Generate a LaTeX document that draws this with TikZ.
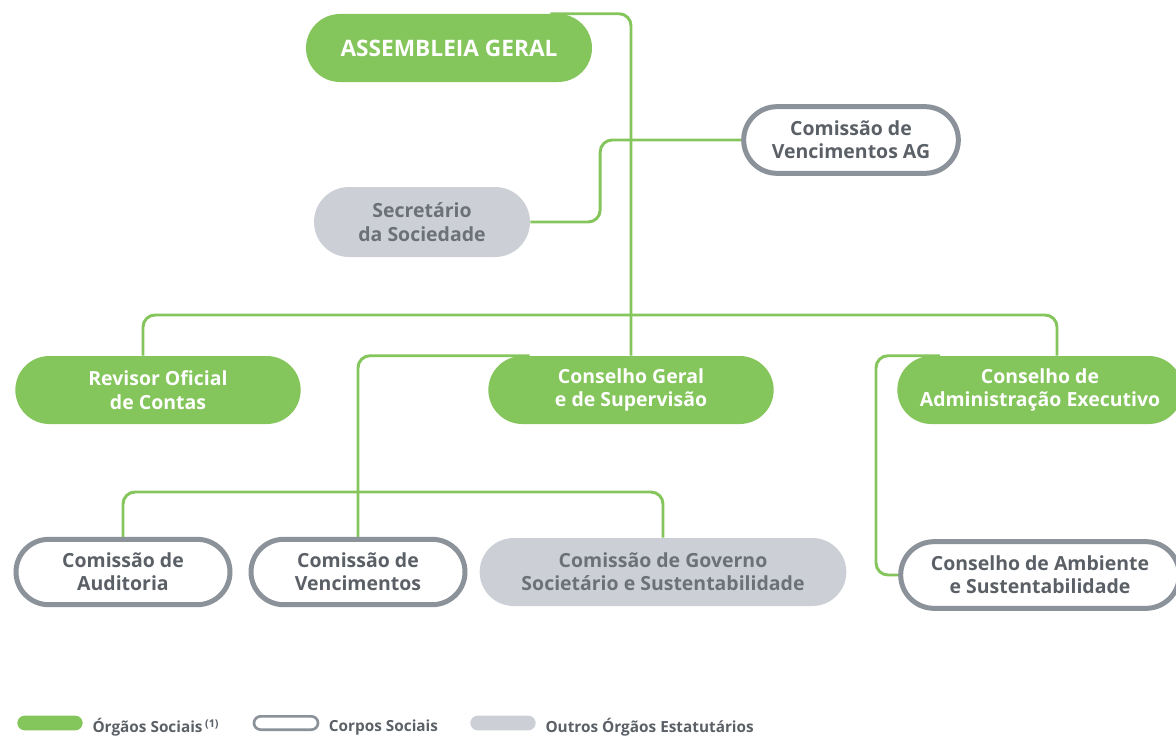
\documentclass[tikz,border=0pt]{standalone}
\usepackage{fontspec}
\setmainfont{Open Sans}
\usetikzlibrary{positioning,shapes.misc,backgrounds}
\definecolor{orgGreen}{HTML}{84C55C}
\definecolor{orgBorder}{HTML}{8B9299}
\definecolor{orgFill}{HTML}{CCD0D6}
\definecolor{orgText}{HTML}{5B6067}
\definecolor{orgTextLight}{HTML}{6C7178}
\begin{document}
\begin{tikzpicture}[x=0.75pt,y=-0.75pt,
  pill/.style={rounded rectangle,align=center,inner sep=0pt,
    font=\fontsize{14.6}{17.5}\selectfont\bfseries},
  social/.style={pill,fill=orgGreen,text=white,minimum width=214pt,minimum height=51pt},
  corpo/.style={pill,draw=orgBorder,line width=3.75pt,fill=white,text=orgText,
    minimum width=160.5pt,minimum height=49pt},
  outro/.style={pill,fill=orgFill,text=orgTextLight},
  link/.style={orgGreen,line width=2.2pt,rounded corners=9pt},
  legtext/.style={inner sep=0pt,text=orgText,font=\fontsize{11.5}{13}\selectfont\bfseries}]
  \useasboundingbox (0,0) rectangle (1176,735);
  \clip (0,0) rectangle (1176,735);
  % top level
  \node[social,minimum width=214.5pt,font=\fontsize{17}{20}\selectfont\bfseries] (ag) at (449,48) {ASSEMBLEIA GERAL};
  \node[corpo,minimum width=161pt,minimum height=50pt] (cvag) at (851,140) {Comissão de\\Vencimentos AG};
  \node[outro,minimum width=162pt,minimum height=52.5pt] (sec) at (422,222) {Secretário\\da Sociedade};
  % middle level
  \node[social] (roc) at (158,390) {Revisor Oficial\\de Contas};
  \node[social] (cgs) at (631,390) {Conselho Geral\\e de Supervisão};
  \node[social] (cae) at (1040,390) {Conselho de\\Administração Executivo};
  % bottom level
  \node[corpo] (cau) at (123,572) {Comissão de\\Auditoria};
  \node[corpo] (cv) at (358,572) {Comissão de\\Vencimentos};
  \node[outro,minimum width=275pt,minimum height=51pt] (cgss) at (663,572) {Comissão de Governo\\Societário e Sustentabilidade};
  \node[corpo,minimum width=209pt,minimum height=50pt] (cas) at (1040,575) {Conselho de Ambiente\\e Sustentabilidade};
  % connectors
  \begin{pgfonlayer}{background}
    \coordinate (busA) at (631,315);
    \coordinate (busB) at (359,492);
    \draw[link] ([xshift=76pt]ag.north) -| (cgs.north);
    \draw[link] (cvag.west) -- ++(-141,0) |- (sec.east);
    \draw[link] ([xshift=-11.25pt]roc.north) |- (busA) -| ([xshift=12.75pt]cae.north);
    \draw[link] ([xshift=-76pt]cgs.north) -| (cv.north);
    \draw[link] (cau.north) |- (busB) -| (cgss.north);
    \draw[link] ([xshift=-75pt]cae.north) -- ++(-64,0) |- (cas.west);
  \end{pgfonlayer}
  % legend
  \node[social,minimum width=49pt,minimum height=11pt] (legsoc) at (50,723) {};
  \node[legtext,right=7pt of legsoc,yshift=-3.5pt] {Órgãos Sociais\,\textsuperscript{(1)}};
  \node[corpo,line width=2pt,minimum width=48pt,minimum height=10pt] (legcorpo) at (286,723) {};
  \node[legtext,right=7pt of legcorpo,yshift=-3.5pt] {Corpos Sociais};
  \node[outro,minimum width=49pt,minimum height=11pt] (legoutro) at (503,723) {};
  \node[legtext,right=7pt of legoutro,yshift=-3.5pt] {Outros Órgãos Estatutários};
\end{tikzpicture}
\end{document}
